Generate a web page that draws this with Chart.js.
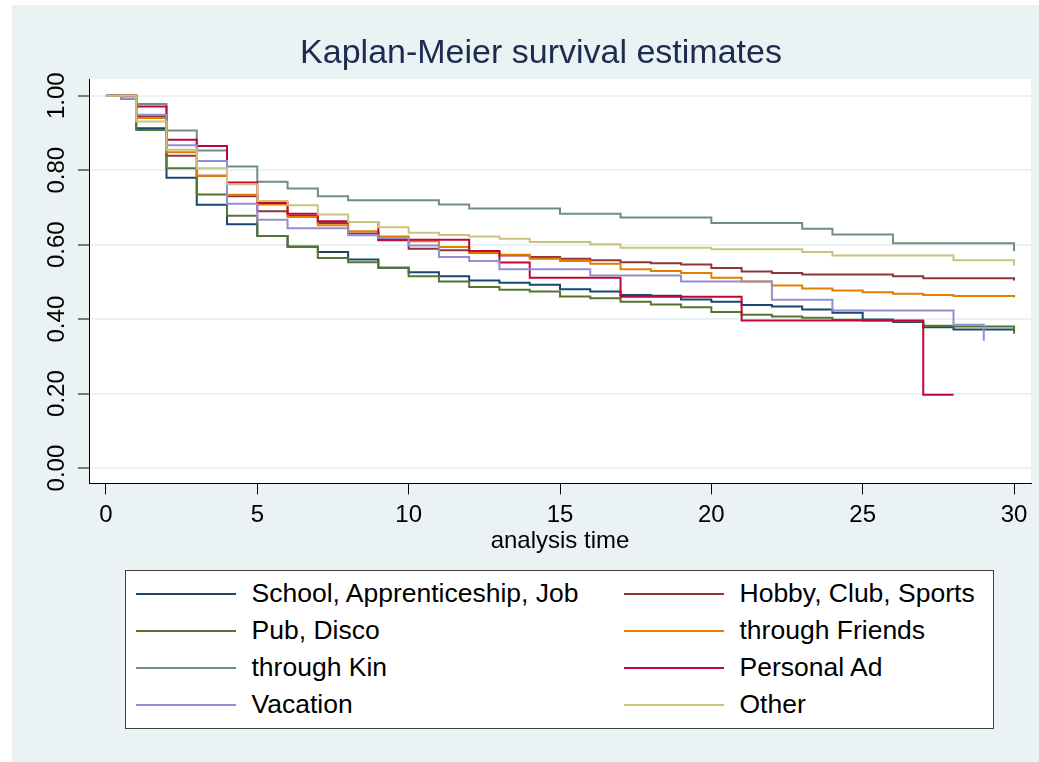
<!DOCTYPE html>
<html>
<head>
<meta charset="utf-8">
<title>Kaplan-Meier survival estimates</title>
<script src="https://cdn.jsdelivr.net/npm/chart.js@4.4.1/dist/chart.umd.min.js"></script>
<style>
  html, body { margin: 0; padding: 0; background: #fff; overflow: hidden; }
  #frame { position: absolute; left: 12px; top: 5px; width: 1027px; height: 757px; background: #eaf2f3; }
  #myChart { position: absolute; left: 0; top: 0; }
  #legend {
    position: absolute; left: 125px; top: 570px; width: 869px; height: 159px;
    box-sizing: border-box; border: 1.5px solid #404040; background: #fff;
    padding: 4.3px 0 0 9.5px;
    display: grid; grid-template-columns: 488px 1fr; grid-auto-rows: 37px;
    font-family: 'Liberation Sans', Arial, sans-serif; font-size: 26.5px; color: #000;
  }
  .item { display: flex; align-items: center; white-space: nowrap; }
  .swatch { display: inline-block; width: 100px; height: 2px; margin-right: 16px; }
</style>
</head>
<body>
<div id="frame"></div>
<canvas id="myChart" width="1039" height="762"></canvas>
<div id="legend"></div>
<script>
// analysis time at which each step starts (drops happen at these times)
var times = [0, 0.5, 1, 2, 3, 4, 5, 6, 7, 8, 9, 10, 11, 12, 13, 14, 15, 16, 17, 18, 19, 20,
  21, 22, 23, 24, 25, 26, 27, 28, 29, 30];

var groups = ['School, Apprenticeship, Job', 'Hobby, Club, Sports', 'Pub, Disco', 'through Friends',
  'through Kin', 'Personal Ad', 'Vacation', 'Other'];

// survival estimate from each time on (null = no more observations)
var school = [1.000, 0.992, 0.913, 0.780, 0.707, 0.655, 0.623, 0.595, 0.580, 0.560, 0.538, 0.526,
  0.515, 0.504, 0.498, 0.492, 0.480, 0.474, 0.465, 0.463, 0.453, 0.447,
  0.438, 0.434, 0.426, 0.417, 0.399, 0.392, 0.378, 0.372, 0.372, 0.367];
var hobby = [1.000, 1.000, 0.945, 0.839, 0.785, 0.730, 0.690, 0.678, 0.658, 0.630, 0.612, 0.589,
  0.585, 0.578, 0.571, 0.567, 0.562, 0.558, 0.553, 0.550, 0.547, 0.537,
  0.528, 0.524, 0.520, 0.520, 0.520, 0.515, 0.510, 0.510, 0.510, 0.504];
var pub = [1.000, 1.000, 0.908, 0.805, 0.735, 0.678, 0.623, 0.594, 0.564, 0.553, 0.538, 0.515,
  0.501, 0.486, 0.479, 0.474, 0.461, 0.456, 0.447, 0.439, 0.432, 0.419,
  0.412, 0.407, 0.404, 0.398, 0.396, 0.394, 0.382, 0.380, 0.380, 0.361];
var friends = [1.000, 1.000, 0.940, 0.848, 0.785, 0.734, 0.708, 0.674, 0.652, 0.636, 0.622, 0.609,
  0.594, 0.580, 0.573, 0.562, 0.556, 0.549, 0.534, 0.529, 0.524, 0.511,
  0.501, 0.490, 0.482, 0.477, 0.472, 0.468, 0.465, 0.462, 0.462, 0.458];
var kin = [1.000, 1.000, 0.978, 0.907, 0.853, 0.810, 0.769, 0.751, 0.730, 0.719, 0.719, 0.719,
  0.708, 0.697, 0.697, 0.697, 0.683, 0.683, 0.673, 0.673, 0.673, 0.658,
  0.658, 0.658, 0.643, 0.627, 0.627, 0.604, 0.604, 0.604, 0.604, 0.582];
var personalAd = [1.000, 1.000, 0.971, 0.882, 0.865, 0.767, 0.712, 0.683, 0.663, 0.661, 0.613, 0.613,
  0.613, 0.583, 0.552, 0.511, 0.511, 0.511, 0.460, 0.460, 0.460, 0.460,
  0.396, 0.396, 0.396, 0.396, 0.396, 0.396, 0.197, 0.197, null, null];
var vacation = [1.000, 0.992, 0.949, 0.867, 0.825, 0.710, 0.667, 0.644, 0.644, 0.625, 0.618, 0.598,
  0.567, 0.556, 0.534, 0.534, 0.534, 0.517, 0.517, 0.517, 0.501, 0.501,
  0.501, 0.452, 0.452, 0.423, 0.423, 0.423, 0.423, 0.385, 0.342, null];
var other = [1.000, 1.000, 0.931, 0.855, 0.805, 0.762, 0.717, 0.706, 0.681, 0.661, 0.647, 0.632,
  0.626, 0.622, 0.616, 0.607, 0.607, 0.601, 0.592, 0.592, 0.592, 0.588,
  0.588, 0.588, 0.580, 0.571, 0.571, 0.571, 0.571, 0.558, 0.558, 0.544];

var xTicks = [0, 5, 10, 15, 20, 25, 30];
var yTicks = [0, 0.2, 0.4, 0.6, 0.8, 1.0];

var series = [school, hobby, pub, friends, kin, personalAd, vacation, other];
// Stata s2color order
var colors = ['#1a476f', '#90353b', '#55752f', '#e37e00', '#6e8e84', '#c10534', '#938dd2', '#cac27e'];

var fontFamily = "'Liberation Sans', Arial, sans-serif";

var plotBackground = {
  id: 'plotBackground',
  afterLayout: function (chart) {
    // the left padding only serves to center the title; let y labels use that room
    chart.scales.y.left = 0;
  },
  beforeDraw: function (chart) {
    var a = chart.chartArea;
    var ctx = chart.ctx;
    ctx.save();
    ctx.fillStyle = '#ffffff';
    ctx.fillRect(a.left, a.top, a.right - a.left, a.bottom - a.top);
    ctx.restore();
  }
};

var datasets = series.map(function (values, i) {
  return {
    label: groups[i],
    data: times.map(function (t, j) { return { x: t, y: values[j] }; }),
    borderColor: colors[i],
    backgroundColor: colors[i],
    borderWidth: 2,
    pointRadius: 0,
    stepped: 'before',
    fill: false,
    order: series.length - 1 - i // later groups drawn on top
  };
});

var ctx = document.getElementById('myChart').getContext('2d');
var myChart = new Chart(ctx, {
  type: 'line',
  data: { datasets: datasets },
  options: {
    responsive: false,
    animation: false,
    devicePixelRatio: 1,
    events: [],
    layout: { padding: { left: 51, right: 8, top: 0, bottom: 206 } },
    plugins: {
      legend: { display: false },
      tooltip: { enabled: false },
      title: {
        display: true,
        text: 'Kaplan-Meier survival estimates',
        color: '#1c2b50',
        font: { family: fontFamily, size: 34, weight: 'normal', lineHeight: 1.2 },
        padding: { top: 33, bottom: 5.2 }
      }
    },
    scales: {
      x: {
        type: 'linear',
        min: -0.56,
        max: 30.56,
        afterBuildTicks: function (scale) {
          scale.ticks = xTicks.map(function (v) { return { value: v }; });
        },
        afterFit: function (scale) {
          scale.height = 72.7;
          scale.paddingLeft = 0;
          scale.paddingRight = 0;
        },
        ticks: {
          color: '#000',
          padding: 7,
          maxRotation: 0,
          autoSkip: false,
          font: { family: fontFamily, size: 24 },
          callback: function (v) { return String(v); }
        },
        grid: { drawOnChartArea: false, tickLength: 11, tickColor: '#000', tickWidth: 1 },
        border: { color: '#000', width: 1 },
        title: {
          display: true,
          text: 'analysis time',
          color: '#000',
          padding: 0,
          font: { family: fontFamily, size: 24, lineHeight: 1.2 }
        }
      },
      y: {
        type: 'linear',
        min: -0.041,
        max: 1.045,
        afterBuildTicks: function (scale) {
          scale.ticks = yTicks.map(function (v) { return { value: v }; });
        },
        afterFit: function (scale) {
          scale.width = 38;
          scale.paddingTop = 0;
          scale.paddingBottom = 0;
        },
        ticks: {
          color: '#000',
          minRotation: 90,
          maxRotation: 90,
          crossAlign: 'center',
          padding: -3,
          font: { family: fontFamily, size: 24 },
          callback: function (v) { return v.toFixed(2); }
        },
        grid: { color: '#eaf2f3', lineWidth: 2, tickLength: 11, tickColor: '#000', tickWidth: 1 },
        border: { color: '#000', width: 1 }
      }
    }
  },
  plugins: [plotBackground]
});

// legend in two columns, filled row by row like the original
var legendBox = document.getElementById('legend');
myChart.data.datasets.forEach(function (ds) {
  var item = document.createElement('div');
  item.className = 'item';
  var line = document.createElement('span');
  line.className = 'swatch';
  line.style.background = ds.borderColor;
  var text = document.createElement('span');
  text.textContent = ds.label;
  item.appendChild(line);
  item.appendChild(text);
  legendBox.appendChild(item);
});
</script>
</body>
</html>
